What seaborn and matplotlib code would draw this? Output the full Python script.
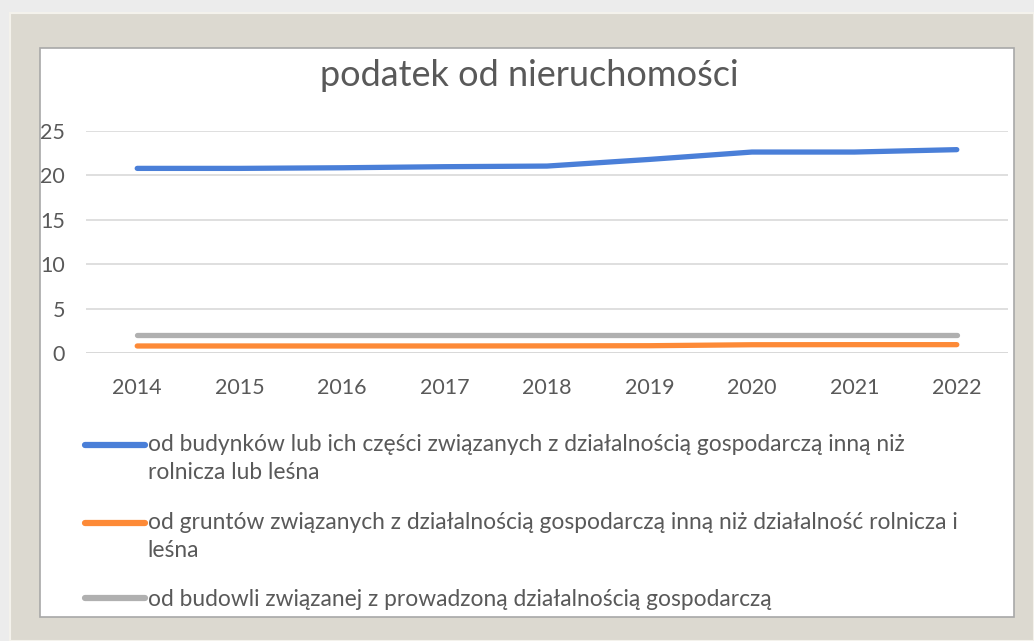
import numpy as np
import pandas as pd
import matplotlib
matplotlib.use("Agg")
import matplotlib.pyplot as plt
from matplotlib.patches import Rectangle
from matplotlib.lines import Line2D
from matplotlib.legend_handler import HandlerLine2D
import seaborn as sns

# ---- data ----
years = ["2014", "2015", "2016", "2017", "2018", "2019", "2020", "2021", "2022"]
series_names = [
    "od budynków lub ich części związanych z działalnością gospodarczą inną niż rolnicza lub leśna",
    "od gruntów związanych z działalnością gospodarczą inną niż działalność rolnicza i leśna",
    "od budowli związanej z prowadzoną działalnością gospodarczą",
]
legend_labels = [
    "od budynków lub ich części związanych z działalnością gospodarczą inną niż\nrolnicza lub leśna",
    "od gruntów związanych z działalnością gospodarczą inną niż działalność rolnicza i\nleśna",
    "od budowli związanej z prowadzoną działalnością gospodarczą",
]
budynki = [20.79, 20.79, 20.86, 20.98, 21.05, 21.8, 22.63, 22.63, 22.9]
grunty = [0.79, 0.79, 0.79, 0.79, 0.80, 0.82, 0.93, 0.94, 0.94]
budowle = [2.0, 2.0, 2.0, 2.0, 2.0, 2.0, 2.0, 2.0, 2.0]
yticks = [0, 5, 10, 15, 20, 25]
title = "podatek od nieruchomości"

colors = ["#4a7fd8", "#fd8a37", "#b0b0b0"]

df = pd.DataFrame({
    "rok": years * 3,
    "wartość": budynki + grunty + budowle,
    "seria": [series_names[0]] * 9 + [series_names[1]] * 9 + [series_names[2]] * 9,
})

sns.set_theme(style="white")
plt.rcParams["font.family"] = ["Lato", "DejaVu Sans"]
text_color = "#595959"

W, H = 1034, 641
fig = plt.figure(figsize=(W / 100, H / 100), dpi=100)
fig.patch.set_facecolor("#ececec")

def px(x0, y0, x1, y1):
    return (x0 / W, 1 - y1 / H), (x1 - x0) / W, (y1 - y0) / H

# frame background
xy, w, h = px(10, 13, W, H)
fig.patches.append(Rectangle(xy, w, h, transform=fig.transFigure, facecolor="#dcd9d0",
                             edgecolor="#f4f2ec", lw=1.5, zorder=-3))
xy, w, h = px(40, 48, 1014, 617)
fig.patches.append(Rectangle(xy, w, h, transform=fig.transFigure, facecolor="white",
                             edgecolor="#a8a8a8", lw=1.2, zorder=-2))

# axes
left, right = 86 / W, 1008 / W
bottom, top = 1 - 353 / H, 1 - 131 / H
ax = fig.add_axes([left, bottom, right - left, top - bottom])
ax.set_facecolor("none")

sns.lineplot(data=df, x="rok", y="wartość", hue="seria", palette=colors,
             linewidth=3.8, ax=ax, legend=True, sort=False)
for ln in ax.get_lines():
    ln.set_solid_capstyle("round")

ax.set_xlim(-0.5, len(years) - 0.5)
ax.set_ylim(0, 25)
ax.set_yticks(yticks)
ax.set_yticklabels([str(t) for t in yticks])
ax.set_xlabel("")
ax.set_ylabel("")
for s in ax.spines.values():
    s.set_visible(False)
ax.grid(axis="y", color="#d9d9d9", linewidth=1.2)
ax.grid(axis="x", visible=False)
ax.set_axisbelow(True)
ax.tick_params(axis="y", length=0, pad=15, labelsize=15.5, labelcolor=text_color)
ax.tick_params(axis="x", length=0, pad=18, labelsize=15.5, labelcolor=text_color)
ax.axhline(0, color="#d9d9d9", linewidth=1.4, zorder=0)

handles, _ = ax.get_legend_handles_labels()
ax.get_legend().remove()


class TopHandler(HandlerLine2D):
    def __init__(self, shift=0.0, **kw):
        super().__init__(**kw)
        self.shift = shift

    def create_artists(self, legend, orig_handle, xdescent, ydescent, width, height, fontsize, trans):
        arts = super().create_artists(legend, orig_handle, xdescent, ydescent, width, height, fontsize, trans)
        for a in arts:
            if isinstance(a, Line2D):
                a.set_ydata(np.asarray(a.get_ydata(), dtype=float) + self.shift)
                a.set_solid_capstyle("round")
        return arts


hmap = {}
for hdl, lab in zip(handles, legend_labels):
    shift = 10.1 if "\n" in lab else 0.0
    hmap[hdl] = TopHandler(shift=shift)

leg = fig.legend(handles, legend_labels, handler_map=hmap, loc="upper left",
                 bbox_to_anchor=(85 / W, 1 - 434 / H), frameon=False,
                 fontsize=16.4, handlelength=2.65, handletextpad=0.1,
                 labelspacing=1.27, borderpad=0, borderaxespad=0, labelcolor=text_color)
for t in leg.get_texts():
    t.set_linespacing(1.4)
for l in leg.get_lines():
    l.set_linewidth(4.5)

fig.text(529 / W, 1 - 76 / H, title, ha="center", va="center", fontsize=26, color=text_color)

fig.savefig("out.png", dpi=100, facecolor=fig.get_facecolor())
